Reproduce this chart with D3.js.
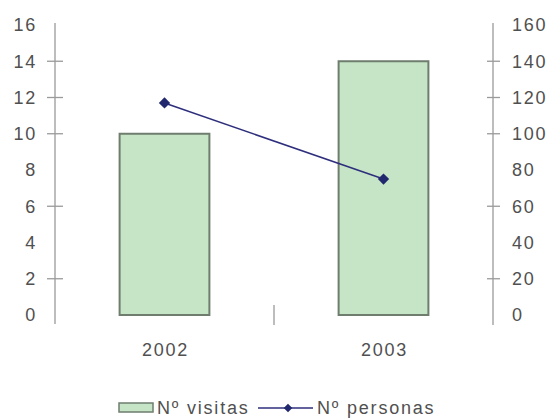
<!DOCTYPE html>
<html lang="es">
<head>
<meta charset="UTF-8">
<title>Visitas y personas</title>
<style>
  html, body { margin: 0; padding: 0; background: #fff; }
  text { font-family: "Liberation Sans", Arial, sans-serif; fill: #505050; font-size: 18px; letter-spacing: 1.8px; }
</style>
</head>
<body>
<div id="chart"></div>
<script src="https://d3js.org/d3.v7.min.js"></script>
<script>
  const years = ["2002", "2003"];
  const visitas = [10, 14];
  const personas = [117, 75];
  const leftTicks = [0, 2, 4, 6, 8, 10, 12, 14, 16];
  const rightTicks = [0, 20, 40, 60, 80, 100, 120, 140, 160];
  // only these tick marks are visible in the picture
  const leftMarks = [2, 6, 10, 12, 14];
  const rightMarks = [20, 60, 100, 120, 140];

  const width = 555, height = 419;
  const svg = d3.select("#chart").append("svg")
      .attr("width", width)
      .attr("height", height);

  const x = d3.scaleBand().domain(years).range([55, 493]).padding(0);
  const yL = d3.scaleLinear().domain([0, 16]).range([315, 25]);
  const yR = d3.scaleLinear().domain([0, 160]).range([315, 25]);
  const barW = x.bandwidth() * 0.41;

  // axes lines
  svg.append("line").attr("x1", 55).attr("x2", 55).attr("y1", 23).attr("y2", 324)
      .attr("stroke", "#9a9a9a").attr("stroke-width", 1.3);
  svg.append("line").attr("x1", 493).attr("x2", 493).attr("y1", 23).attr("y2", 325)
      .attr("stroke", "#9a9a9a").attr("stroke-width", 1.3);

  svg.selectAll(".lt").data(leftMarks).join("line")
      .attr("x1", 47).attr("x2", 63)
      .attr("y1", d => yL(d)).attr("y2", d => yL(d))
      .attr("stroke", "#9a9a9a").attr("stroke-width", 1.3);
  svg.selectAll(".rt").data(rightMarks).join("line")
      .attr("x1", 487).attr("x2", 500)
      .attr("y1", d => yR(d)).attr("y2", d => yR(d))
      .attr("stroke", "#9a9a9a").attr("stroke-width", 1.3);

  // category divider tick
  svg.append("line")
      .attr("x1", x(years[1])).attr("x2", x(years[1]))
      .attr("y1", 305).attr("y2", 325)
      .attr("stroke", "#9a9a9a").attr("stroke-width", 1.3);

  svg.selectAll(".ll").data(leftTicks).join("text")
      .attr("x", 37).attr("y", d => yL(d))
      .attr("dy", "0.36em")
      .attr("text-anchor", "end")
      .text(d => d);
  svg.selectAll(".rl").data(rightTicks).join("text")
      .attr("x", 512).attr("y", d => yR(d))
      .attr("dy", "0.36em")
      .text(d => d);

  // bars
  svg.selectAll(".bar").data(years).join("rect")
      .attr("x", d => x(d) + x.bandwidth() / 2 - barW / 2)
      .attr("y", (d, i) => yL(visitas[i]))
      .attr("width", barW)
      .attr("height", (d, i) => yL(0) - yL(visitas[i]))
      .attr("fill", "#c6e5c6")
      .attr("stroke", "#6f7d6f")
      .attr("stroke-width", 2);

  // line series
  const line = d3.line()
      .x((d, i) => x(years[i]) + x.bandwidth() / 2)
      .y(d => yR(d));
  svg.append("path").datum(personas)
      .attr("d", line)
      .attr("fill", "none")
      .attr("stroke", "#2e2f7c")
      .attr("stroke-width", 1.6);
  svg.selectAll(".pt").data(personas).join("rect")
      .attr("x", (d, i) => x(years[i]) + x.bandwidth() / 2 - 4)
      .attr("y", d => yR(d) - 4)
      .attr("width", 8).attr("height", 8)
      .attr("transform", (d, i) => `rotate(45 ${x(years[i]) + x.bandwidth() / 2} ${yR(d)})`)
      .attr("fill", "#22286e");

  // category labels
  svg.selectAll(".xl").data(years).join("text")
      .attr("x", d => x(d) + x.bandwidth() / 2 + 1)
      .attr("y", 350)
      .attr("dy", "0.36em")
      .attr("text-anchor", "middle")
      .text(d => d);

  // legend
  const lg = svg.append("g");
  lg.append("rect").attr("x", 119).attr("y", 403).attr("width", 34).attr("height", 9)
      .attr("fill", "#c6e5c6").attr("stroke", "#6f7d6f").attr("stroke-width", 1.5);
  lg.append("text").attr("x", 157).attr("y", 408).attr("dy", "0.36em")
      .text("Nº visitas");
  lg.append("line").attr("x1", 258).attr("x2", 313).attr("y1", 408).attr("y2", 408)
      .attr("stroke", "#2e2f7c").attr("stroke-width", 1.6);
  lg.append("rect").attr("x", 285).attr("y", 405).attr("width", 6).attr("height", 6)
      .attr("transform", "rotate(45 288 408)").attr("fill", "#22286e");
  lg.append("text").attr("x", 317).attr("y", 408).attr("dy", "0.36em")
      .text("Nº personas");
</script>
</body>
</html>
